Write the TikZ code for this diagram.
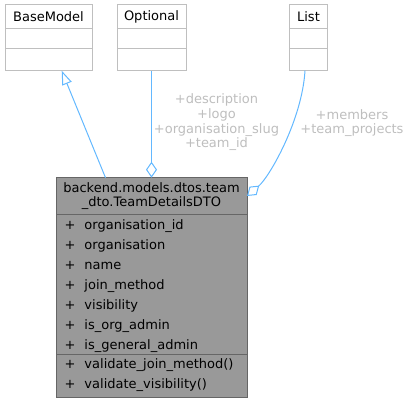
\documentclass[tikz,border=0pt]{standalone}
\usepackage{fontspec}
\setmainfont{DejaVu Sans}
\usetikzlibrary{arrows.meta,positioning}

\definecolor{edgeblue}{HTML}{63B8FF}
\definecolor{clsline}{HTML}{BFBFBF}
\definecolor{dtofill}{HTML}{999999}
\definecolor{dtoline}{HTML}{666666}
\definecolor{lblgrey}{HTML}{BEBEBE}

\tikzset{
  cls/.style={draw=clsline, fill=white, inner sep=0pt, outer sep=0pt, line width=1pt, minimum width=#1},
  dto/.style={draw=dtoline, fill=dtofill, inner sep=0pt, outer sep=0pt, line width=1pt, minimum width=191pt},
  member/.style={inner sep=0pt, anchor=base west},
  edgelbl/.style={text=lblgrey, align=center, inner sep=0pt, font=\fontsize{13}{14.7}\selectfont},
  rel/.style={draw=edgeblue, line width=1pt},
}

\begin{document}
\begin{tikzpicture}[x=1pt, y=-1pt, font=\fontsize{13}{15.6}\selectfont]
\useasboundingbox (0,0) rectangle (410,403);

% Base classes
\node[cls=87pt, minimum height=23.7pt] (bmhead) at (48.5,16.85) {BaseModel};
\node[cls=87pt, minimum height=20pt, below=0pt of bmhead] (bmattr) {};
\node[cls=87pt, minimum height=22pt, below=0pt of bmattr] (bmops) {};

\node[cls=69pt, minimum height=23.7pt] (opthead) at (151.5,16.85) {Optional};
\node[cls=69pt, minimum height=20pt, below=0pt of opthead] (optattr) {};
\node[cls=69pt, minimum height=22pt, below=0pt of optattr] (optops) {};

\node[cls=37.6pt, minimum height=23.7pt] (listhead) at (308.5,16.85) {List};
\node[cls=37.6pt, minimum height=20pt, below=0pt of listhead] (listattr) {};
\node[cls=37.6pt, minimum height=22pt, below=0pt of listattr] (listops) {};

% DTO class
\node[dto, minimum height=36.6pt, align=center, font=\fontsize{13}{13.7}\selectfont] (dtohead) at (151.5,196) {backend.models.dtos.team\\\_dto.TeamDetailsDTO};
\node[dto, minimum height=140.7pt, below=0pt of dtohead] (dtoattr) {};
\node[dto, minimum height=42.7pt, below=0pt of dtoattr] (dtoops) {};

\foreach \attr [count=\i] in {organisation\_id, organisation, name, join\_method, visibility, is\_org\_admin, is\_general\_admin}
  \node[member] (attr\i) at (64.5, {209.3+20*\i}) {\makebox[19.8pt][l]{+}\attr};

\foreach \op [count=\i] in {validate\_join\_method(), validate\_visibility()}
  \node[member] (op\i) at (64.5, {348.3+20*\i}) {\makebox[19.8pt][l]{+}\op};

% Relations
\draw[rel, -{Triangle[open, length=14pt, width=10pt]}] ([xshift=-46pt]dtohead.north) -- ([xshift=13.2pt]bmops.south);
\draw[rel, {Diamond[open, length=16pt, width=11pt]}-] (dtohead.north) -- (optops.south);
\draw[rel, {Diamond[open, length=16pt, width=11pt]}-] (dtohead.east) .. controls (269.7,176.7) and (302,120) .. ([xshift=-3.5pt]listops.south);

% Edge labels
\node[edgelbl] (optlbl) at (216.5,122.5) {+description\\+logo\\+organisation\_slug\\+team\_id};
\node[edgelbl] (listlbl) at (352,123) {+members\\+team\_projects};

\end{tikzpicture}
\end{document}
